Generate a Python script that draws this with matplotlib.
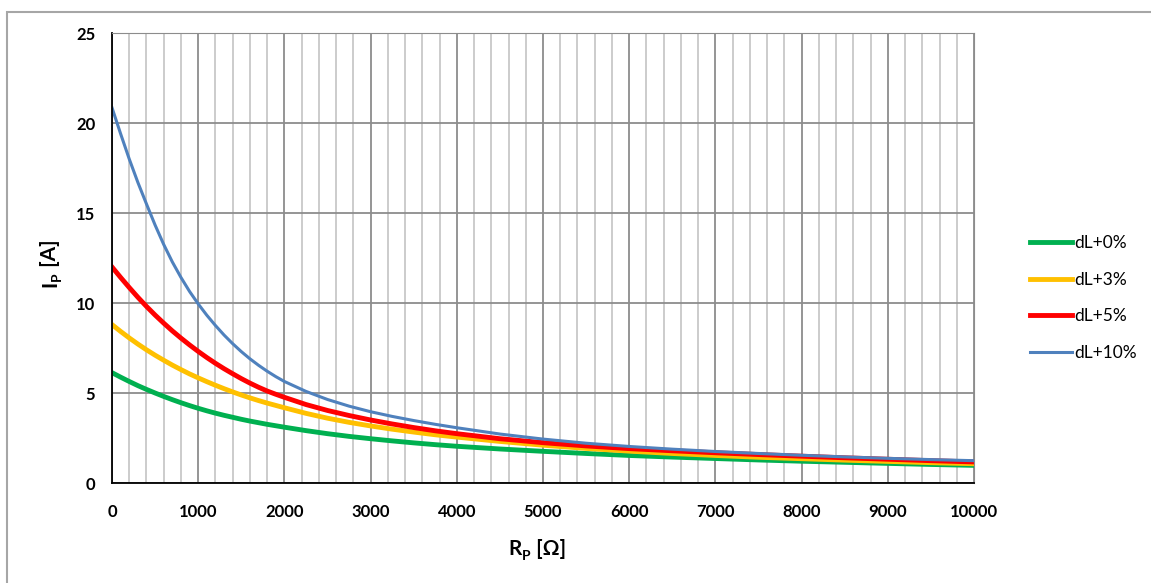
import matplotlib
matplotlib.use("Agg")
import matplotlib.pyplot as plt
from matplotlib.patches import Rectangle

plt.rcParams['font.family'] = ['Lato', 'DejaVu Sans']

# R_P values [Ohm]
rp = [0, 100, 200, 300, 400, 500, 600, 700, 800, 900, 1000,
      1100, 1200, 1300, 1400, 1500, 1600, 1700, 1800, 1900, 2000,
      2250, 2500, 2750, 3000, 3250, 3500, 3750, 4000,
      4500, 5000, 5500, 6000, 6500, 7000, 7500, 8000, 8500, 9000, 9500, 10000]

# I_P values [A]
ip_0 = [6.13, 5.88, 5.64, 5.41, 5.20, 5.00, 4.81, 4.63, 4.46, 4.30, 4.15,
        4.01, 3.88, 3.76, 3.65, 3.54, 3.44, 3.35, 3.26, 3.18, 3.10,
        2.91, 2.74, 2.59, 2.46, 2.34, 2.23, 2.13, 2.04,
        1.89, 1.76, 1.64, 1.53, 1.44, 1.36, 1.28, 1.21, 1.15, 1.09, 1.03, 0.98]
ip_3 = [8.80, 8.42, 8.06, 7.72, 7.40, 7.10, 6.82, 6.55, 6.30, 6.06, 5.84,
        5.63, 5.43, 5.24, 5.06, 4.89, 4.73, 4.58, 4.44, 4.31, 4.18,
        3.87, 3.60, 3.37, 3.17, 2.99, 2.83, 2.68, 2.55,
        2.31, 2.10, 1.92, 1.77, 1.64, 1.53, 1.43, 1.35, 1.27, 1.20, 1.13, 1.07]
ip_5 = [12.00, 11.42, 10.86, 10.32, 9.81, 9.33, 8.88, 8.45, 8.05, 7.67, 7.31,
        6.97, 6.65, 6.35, 6.07, 5.80, 5.55, 5.32, 5.11, 4.93, 4.76,
        4.36, 4.03, 3.75, 3.50, 3.28, 3.08, 2.90, 2.74,
        2.46, 2.24, 2.06, 1.91, 1.79, 1.68, 1.58, 1.49, 1.40, 1.32, 1.24, 1.17]
ip_10 = [20.85, 19.40, 18.00, 16.70, 15.50, 14.33, 13.25, 12.28, 11.42, 10.64, 9.95,
         9.32, 8.75, 8.22, 7.74, 7.30, 6.90, 6.54, 6.21, 5.91, 5.64,
         5.09, 4.64, 4.27, 3.96, 3.70, 3.47, 3.26, 3.07,
         2.72, 2.44, 2.21, 2.03, 1.88, 1.75, 1.64, 1.54, 1.45, 1.37, 1.30, 1.24]

labels = ['dL+0%', 'dL+3%', 'dL+5%', 'dL+10%']
colors = ['#00B050', '#FFC000', '#FF0000', '#4F81BD']
widths = [3.5, 3.5, 3.5, 2.2]

fig = plt.figure(figsize=(11.51, 5.83), dpi=100)
fig.patches.append(Rectangle((7 / 1151, -0.1), 1.2, 1 - 12 / 583 + 0.1,
                             transform=fig.transFigure, fill=False,
                             edgecolor='#a6a6a6', linewidth=1.5))

ax = fig.add_axes([112 / 1151, 1 - 483 / 583, 862 / 1151, 450 / 583])

for y, lab, c, w in zip([ip_0, ip_3, ip_5, ip_10], labels, colors, widths):
    ax.plot(rp, y, color=c, linewidth=w, label=lab, solid_joinstyle='round')

ax.set_xlim(0, 10000)
ax.set_ylim(0, 25)
ax.set_xticks(range(0, 10001, 1000))
ax.set_xticks(range(0, 10001, 200), minor=True)
ax.set_yticks(range(0, 26, 5))
ax.grid(which='major', color='#8c8c8c', linewidth=1.3)
ax.grid(which='minor', axis='x', color='#c8c8c8', linewidth=1.3)
ax.set_axisbelow(True)
ax.tick_params(which='both', length=0, labelsize=12)
for t in ax.get_xticklabels() + ax.get_yticklabels():
    t.set_fontweight('bold')
ax.tick_params(axis='y', pad=12)
ax.tick_params(axis='x', pad=15)

ax.spines['left'].set_color('black')
ax.spines['bottom'].set_color('black')
ax.spines['left'].set_linewidth(1.3)
ax.spines['bottom'].set_linewidth(1.3)
ax.spines['top'].set_color('#8c8c8c')
ax.spines['right'].set_color('#8c8c8c')

# axis titles with a bold subscript P, built from plain text pieces
big = dict(fontsize=15, fontweight='bold')
small = dict(fontsize=10, fontweight='bold')

t_i = fig.text(50 / 1151, 1 - 287 / 583, 'I', rotation=90, ha='center',
               va='bottom', **big)
t_ip = ax.annotate('P', xy=(1, 1), xycoords=t_i, xytext=(2, 0),
                   textcoords='offset points', rotation=90, ha='right',
                   va='bottom', annotation_clip=False, **small)
ax.annotate(' [A]', xy=(1, 1), xycoords=(t_i, t_ip), rotation=90,
            ha='right', va='bottom', annotation_clip=False, **big)

t_r = fig.text(508 / 1151, 1 - 559 / 583, 'R', ha='left', va='bottom', **big)
t_rp = ax.annotate('P', xy=(1, 0), xycoords=t_r, xytext=(0.5, -2),
                   textcoords='offset points', ha='left', va='bottom',
                   annotation_clip=False, **small)
ax.annotate(' [Ω]', xy=(1, 0), xycoords=(t_rp, t_r), ha='left',
            va='bottom', annotation_clip=False, **big)

fig.legend(loc='center left', bbox_to_anchor=(1030 / 1151, 1 - 298 / 583),
           frameon=False, fontsize=12.5, handlelength=2.4, handletextpad=0.15,
           labelspacing=1.2, borderpad=0, borderaxespad=0)

fig.savefig('out.png', dpi=100)
